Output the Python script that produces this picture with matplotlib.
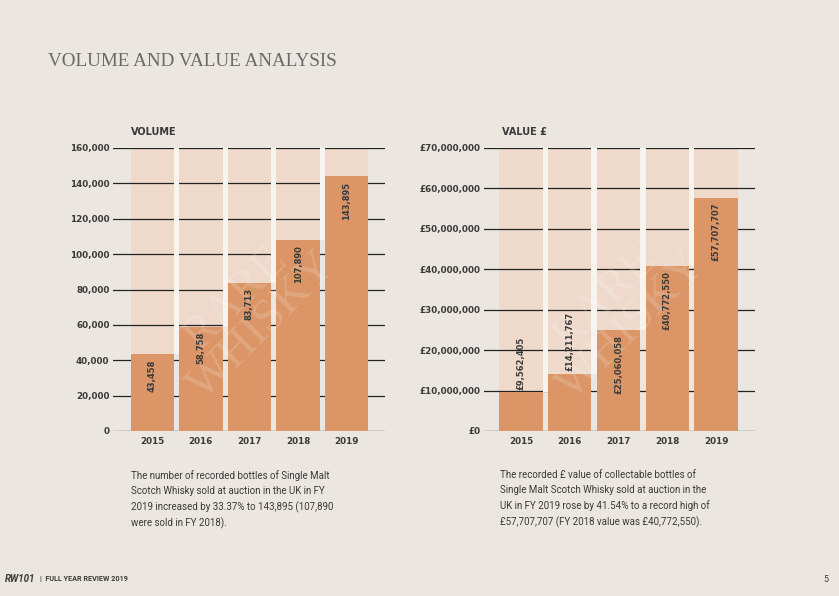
import matplotlib.pyplot as plt
from matplotlib import font_manager
from matplotlib.ticker import FuncFormatter

# Données
annees = ['2015', '2016', '2017', '2018', '2019']
volume = [43458, 58758, 83713, 107890, 143895]
valeur = [9562405, 14211767, 25060058, 40772550, 57707707]
volume_ticks = [0, 20000, 40000, 60000, 80000, 100000, 120000, 140000, 160000]
valeur_ticks = [0, 10000000, 20000000, 30000000, 40000000, 50000000, 60000000, 70000000]

fond = '#ebe7e0'
orange = '#db9566'
orange_clair = '#eed9cb'
blanc = '#f7f3ef'
gris = '#3a3a3a'

# police étroite pour les textes, si elle existe
noms = {f.name for f in font_manager.fontManager.ttflist}
police_texte = 'Liberation Sans Narrow' if 'Liberation Sans Narrow' in noms else 'Roboto'

W, H = 839, 596
fig = plt.figure(figsize=(W / 100, H / 100), dpi=100, facecolor=fond)


def px_axes(x0, y0, x1, y1):
    # positions en pixels (origine en haut à gauche)
    return fig.add_axes([x0 / W, 1 - y1 / H, (x1 - x0) / W, (y1 - y0) / H])


def tracer(ax, valeurs, ticks, fmt, titre, xlim):
    ymax = ticks[-1]
    n = len(valeurs)
    x = list(range(n))
    larg = 0.89
    ax.set_facecolor('none')
    # partie claire au-dessus de chaque barre
    ax.bar(x, [ymax - v for v in valeurs], bottom=valeurs, width=larg, color=orange_clair, zorder=1)
    for t in ticks:
        ax.axhline(t, color='#222222', linewidth=0.9, zorder=1.5)
    # bandes blanches entre les parties claires
    for i in range(n - 1):
        bas = min(valeurs[i], valeurs[i + 1])
        ax.fill_between([i + larg / 2, i + 1 - larg / 2], bas, ymax, color=blanc, linewidth=0, zorder=1.8)
    ax.bar(x, valeurs, width=larg, color=orange, zorder=2)
    ax.set_ylim(0, ymax)
    ax.set_xlim(*xlim)
    ax.set_yticks(ticks)
    ax.yaxis.set_major_formatter(FuncFormatter(fmt))
    ax.set_xticks(x)
    ax.set_xticklabels(annees)
    ax.tick_params(axis='y', length=0, labelsize=6.3, colors=gris, pad=2.5)
    ax.tick_params(axis='x', length=0, labelsize=6.3, colors=gris, pad=4)
    for lab in ax.get_xticklabels() + ax.get_yticklabels():
        lab.set_fontweight('bold')
    for s in ax.spines.values():
        s.set_visible(False)
    ax.text(0.065, 1.045, titre, transform=ax.transAxes, fontsize=7, fontweight='bold', color=gris)
    for i, v in enumerate(valeurs):
        etiquette = fmt(v, None)
        if v < 0.25 * ymax:
            ax.text(i, v + 0.01 * ymax, etiquette, rotation=90, ha='center', va='bottom',
                    fontsize=6, fontweight='bold', color=gris, zorder=4)
        else:
            ax.text(i, v - 0.018 * ymax, etiquette, rotation=90, ha='center', va='top',
                    fontsize=6, fontweight='bold', color=gris, zorder=4)
    # filigrane
    ax.text(2.0, 0.42 * ymax, 'RARE\nWHISKY', rotation=45, ha='center', va='center',
            fontsize=34, family='Liberation Serif', color='white', alpha=0.17,
            linespacing=0.85, zorder=3)


ax1 = px_axes(113, 148, 385, 431)
tracer(ax1, volume, volume_ticks, lambda v, p: f'{int(v):,}', 'VOLUME', (-0.81, 4.79))

ax2 = px_axes(484, 148, 755, 431)
tracer(ax2, valeur, valeur_ticks, lambda v, p: f'£{int(v):,}', 'VALUE £', (-0.76, 4.8))

fig.text(48 / W, 1 - 62 / H, 'VOLUME AND VALUE ANALYSIS', family='Liberation Serif',
         fontsize=13.8, color='#6a6a6a', va='center')

texte_gauche = ('The number of recorded bottles of Single Malt\n'
                'Scotch Whisky sold at auction in the UK in FY\n'
                '2019 increased by 33.37% to 143,895 (107,890\n'
                'were sold in FY 2018).')
texte_droite = ('The recorded £ value of collectable bottles of\n'
                'Single Malt Scotch Whisky sold at auction in the\n'
                'UK in FY 2019 rose by 41.54% to a record high of\n'
                '£57,707,707 (FY 2018 value was £40,772,550).')
fig.text(131 / W, 1 - 470 / H, texte_gauche, family=police_texte, fontsize=7, color=gris,
         va='top', linespacing=1.6)
fig.text(500 / W, 1 - 470 / H, texte_droite, family=police_texte, fontsize=7, color=gris,
         va='top', linespacing=1.6)

fig.text(5 / W, 1 - 579 / H, 'RW101', family=police_texte, fontsize=7, style='italic',
         fontweight='bold', color=gris, va='center')
fig.text(40 / W, 1 - 579 / H, '|  FULL YEAR REVIEW 2019', family=police_texte, fontsize=5.2,
         fontweight='bold', color=gris, va='center')
fig.text(823 / W, 1 - 579 / H, '5', family=police_texte, fontsize=6.5, color=gris, va='center')

fig.savefig('out.png', dpi=100, facecolor=fond)
